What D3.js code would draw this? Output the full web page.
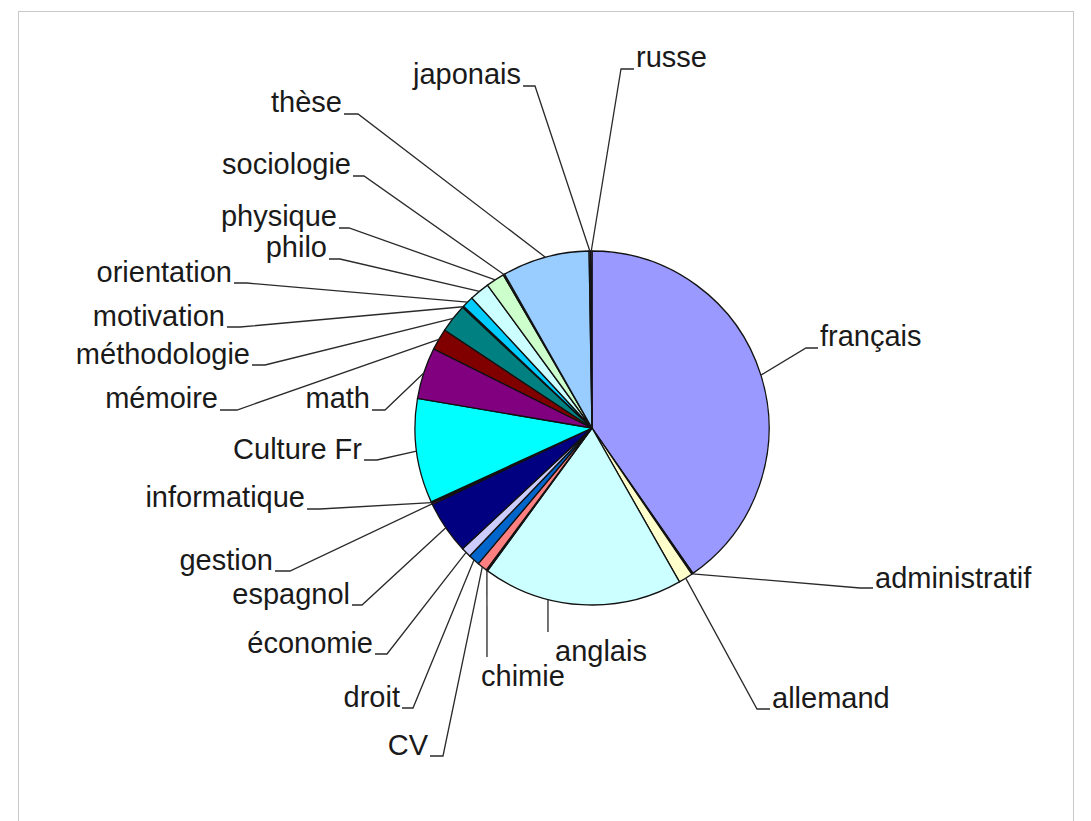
<!DOCTYPE html>
<html>
<head>
<meta charset="utf-8">
<script src="https://cdn.jsdelivr.net/npm/d3@7"></script>
<style>
  html, body { margin: 0; padding: 0; background: #ffffff; }
  svg { display: block; }
  text { font-family: "Liberation Sans", Arial, sans-serif; }
</style>
</head>
<body>
<svg id="chart" width="1091" height="821"></svg>
<script>
// ---- data ----
const categories = ["français", "administratif", "allemand", "anglais", "chimie", "CV", "droit",
  "économie", "espagnol", "gestion", "informatique", "Culture Fr", "math", "mémoire",
  "méthodologie", "motivation", "orientation", "philo", "physique", "sociologie", "thèse",
  "japonais", "russe"];
const values = [309, 1, 10, 140, 1, 7, 8, 7, 37, 1, 1, 73, 36, 15, 20, 1, 8, 14, 13, 1, 61, 1, 1];

// ---- styles (Excel 2003 default chart palette) ----
const palette = ["#9999FF", "#993366", "#FFFFCC", "#CCFFFF", "#660066", "#FF8080", "#0066CC",
  "#CCCCFF", "#000080", "#FF00FF", "#FFFF00", "#00FFFF", "#800080", "#800000", "#008080",
  "#0000FF", "#00CCFF", "#CCFFFF", "#CCFFCC", "#FFFF99", "#99CCFF", "#FF99CC", "#CC99FF"];

// ---- label layout (text position, anchor, elbow of leader line) ----
const labelLayout = [
  {x: 820, y: 346, a: "start", ex: 806, ey: 348},
  {x: 875, y: 588, a: "start", ex: 860, ey: 588},
  {x: 772, y: 708, a: "start", ex: 757, ey: 709},
  {x: 555, y: 661, a: "start", ex: 548, ey: 632, at: 194.4, noUnder: true},
  {x: 481, y: 686, a: "start", ex: 487, ey: 657, noUnder: true},
  {x: 428, y: 755, a: "end", ex: 443, ey: 756},
  {x: 400, y: 707, a: "end", ex: 413, ey: 708},
  {x: 373, y: 653, a: "end", ex: 387, ey: 654},
  {x: 350, y: 604, a: "end", ex: 362, ey: 605},
  {x: 273, y: 570, a: "end", ex: 290, ey: 571},
  {x: 305, y: 507, a: "end", ex: 320, ey: 509},
  {x: 362, y: 459, a: "end", ex: 377, ey: 460},
  {x: 370, y: 408, a: "end", ex: 385, ey: 410},
  {x: 218, y: 408, a: "end", ex: 237, ey: 410},
  {x: 250, y: 364, a: "end", ex: 265, ey: 365},
  {x: 225, y: 326, a: "end", ex: 240, ey: 327},
  {x: 232, y: 282, a: "end", ex: 247, ey: 283},
  {x: 327, y: 257, a: "end", ex: 340, ey: 259},
  {x: 337, y: 226, a: "end", ex: 349, ey: 228},
  {x: 351, y: 174, a: "end", ex: 364, ey: 176},
  {x: 342, y: 112, a: "end", ex: 358, ey: 114},
  {x: 521, y: 84, a: "end", ex: 535, ey: 86},
  {x: 636, y: 67, a: "start", ex: 621, ey: 69}
];

const W = 1091, H = 821;
const cx = 592, cy = 428, R = 177;
const svg = d3.select("#chart");

// frame
svg.append("rect").attr("x", 18.5).attr("y", 11.5).attr("width", 1055).attr("height", 830)
  .attr("fill", "#ffffff").attr("stroke", "#c8c8c8").attr("stroke-width", 1);

const table = categories.map((c, i) => ({name: c, value: values[i], color: palette[i], lay: labelLayout[i]}));

const pie = d3.pie().sort(null).value(d => d.value).startAngle(0).endAngle(2 * Math.PI);
const arcs = pie(table);
const arc = d3.arc().innerRadius(0).outerRadius(R);

const g = svg.append("g").attr("transform", `translate(${cx},${cy})`);
g.selectAll("path.slice").data(arcs).join("path")
  .attr("class", "slice")
  .attr("d", arc)
  .attr("fill", d => d.data.color)
  .attr("stroke", "#111111")
  .attr("stroke-width", 1.3)
  .attr("stroke-linejoin", "round");

// leader lines
const lines = svg.append("g").attr("fill", "none").attr("stroke", "#2a2a2a").attr("stroke-width", 1.3);
arcs.forEach(d => {
  const L = d.data.lay;
  const ang = L.at !== undefined ? L.at * Math.PI / 180 : (d.startAngle + d.endAngle) / 2;
  const px = cx + R * Math.sin(ang), py = cy - R * Math.cos(ang);
  const pts = [[px, py], [L.ex, L.ey]];
  if (!L.noUnder) {
    pts.push([L.a === "end" ? L.x + 2 : L.x - 2, L.ey]);
  }
  lines.append("path").attr("d", d3.line()(pts));
});

// labels
svg.append("g").selectAll("text").data(arcs).join("text")
  .attr("x", d => d.data.lay.x)
  .attr("y", d => d.data.lay.y)
  .attr("text-anchor", d => d.data.lay.a)
  .attr("font-size", 29)
  .attr("fill", "#1a1a1a")
  .text(d => d.data.name);
</script>
</body>
</html>
